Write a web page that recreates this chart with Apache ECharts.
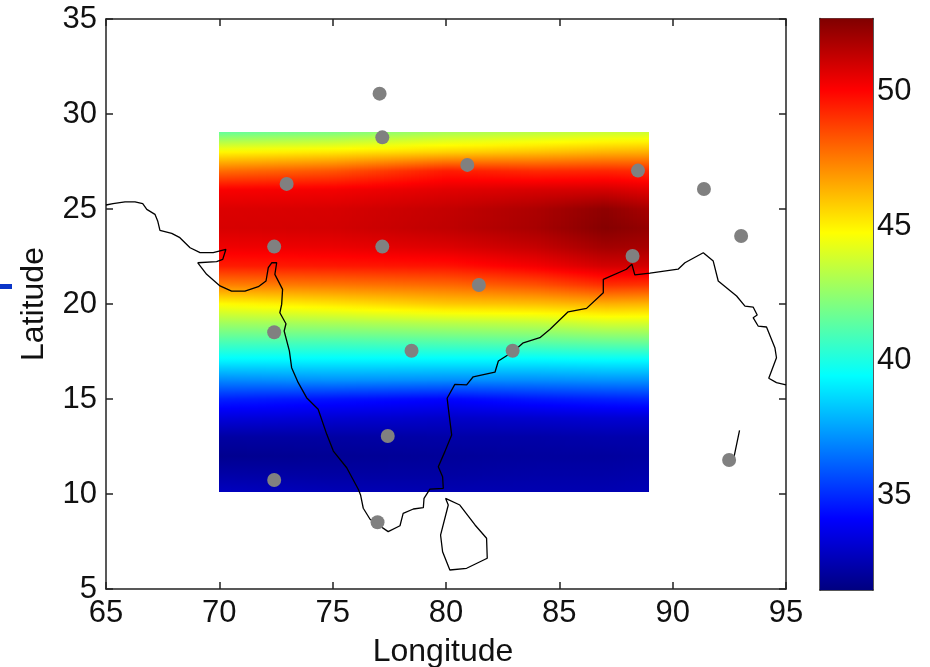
<!DOCTYPE html>
<html><head><meta charset="utf-8">
<style>html,body{margin:0;padding:0;background:#fff}#c{width:930px;height:667px}</style>
<script src="https://cdn.jsdelivr.net/npm/echarts@6/dist/echarts.min.js"></script>
</head><body><div id="c"></div>
<script>
const xTicks = [65,70,75,80,85,90,95];
const yTicks = [5,10,15,20,25,30,35];
const barTicks = [35,40,45,50];
const cMin = 31.47, cMax = 52.73;
const gridLons = [70,75,80,84,87,88.96];
const gridLats = [29.05,28,27,26,25,24,23,22,21,20,19,18,17,16,15,14,13,12,11,10.1];
const temp70 = [41.5,44.9,47.8,50.2,50.8,50.9,50.4,49.5,47.4,44.8,42.8,41.0,39.2,37.0,34.8,33.4,32.2,31.8,32.3,32.8];
const temp75 = [42.0,45.2,48.3,50.3,50.9,51.0,50.5,49.6,47.6,45.3,43.0,41.0,39.2,37.2,34.5,33.2,32.2,31.9,32.2,32.6];
const temp80 = [42.9,45.7,49.5,50.7,51.3,51.4,50.8,49.7,47.9,45.9,43.3,41.2,39.2,37.1,34.2,33.0,32.3,32.0,32.2,32.5];
const temp84 = [43.3,46.0,49.2,50.9,51.8,51.9,51.3,50.3,48.4,46.1,43.5,41.4,39.2,37.1,34.6,33.1,32.3,32.1,32.3,32.5];
const temp87 = [43.6,46.3,49.3,51.0,52.4,52.6,52.0,51.0,49.1,46.4,43.9,41.6,39.3,37.2,34.8,33.2,32.4,32.1,32.3,32.5];
const temp89 = [43.7,46.4,49.2,50.7,51.9,52.3,51.9,51.0,49.0,46.3,43.9,41.7,39.3,37.2,34.9,33.2,32.4,32.2,32.4,32.6];
const tempColumns = [temp70,temp75,temp80,temp84,temp87,temp89];
const stations = [[77.07,31.07],[77.19,28.77],[72.97,26.32],[80.94,27.32],[88.47,27.02],[91.38,26.05],[93.02,23.58],[72.42,23.02],[77.19,23.02],[88.23,22.53],[81.45,21],[72.42,18.51],[78.48,17.54],[82.94,17.54],[77.43,13.05],[72.42,10.74],[76.98,8.51],[92.49,11.79]];
const coastMain = [[65,25.21],[65.31,25.28],[65.84,25.37],[66.28,25.37],[66.62,25.28],[66.8,24.98],[67.16,24.72],[67.28,24.37],[67.38,23.88],[67.9,23.72],[68.26,23.49],[68.71,22.96],[69.15,22.7],[69.73,22.7],[70.29,22.88],[70.15,22.35],[69.88,22.23],[69.05,22.17],[69.44,21.56],[70.03,20.95],[70.54,20.68],[71.13,20.68],[71.72,20.91],[72.06,21.21],[72.16,21.91],[72.31,22.17],[72.53,22.17],[72.45,21.56],[72.79,20.77],[72.75,19.98],[72.67,19.54],[72.94,18.96],[72.86,18.58],[73.09,17.53],[73.19,16.65],[73.48,15.86],[73.85,15.07],[74.36,14.46],[74.74,13.14],[75.03,12.26],[75.62,11.38],[76.13,10.25],[76.23,9.95],[76.35,9.25],[76.65,8.67],[77.45,8.02],[77.97,8.33],[78.11,8.98],[78.56,9.21],[79,9.28],[79.03,9.77],[79.29,10.26],[79.88,10.3],[79.85,10.91],[79.66,11.44],[79.95,12.23],[80.25,13.11],[80.14,14.16],[80.05,15.04],[80.39,15.77],[80.91,15.74],[81.2,16.17],[82.16,16.41],[82.31,17],[82.97,17.5],[83.41,17.96],[84.14,18.23],[84.59,18.67],[85.39,19.59],[86.2,19.77],[86.94,20.59],[86.94,21.3],[87.96,21.83],[88.2,22.1],[88.33,21.53],[89,21.63],[90.24,21.83],[90.54,22.17],[91.35,22.7],[91.79,22.26],[92.01,21.21],[92.82,20.42],[93.19,19.89],[93.55,19.84],[93.73,19.42],[93.55,19.28],[93.77,18.84],[94.14,18.79],[94.51,17.7],[94.58,17.17],[94.24,16.09],[94.58,15.86],[95,15.74]];
const coastLanka = [[79.98,9.77],[80.61,9.42],[81.28,8.37],[81.79,7.67],[81.82,6.62],[80.91,6.09],[80.17,6],[79.85,6.96],[79.76,7.84],[80.1,9.42],[79.98,9.77]];
const coastAndaman = [[92.95,13.35],[92.7,11.91],[92.48,11.74]];

const jetKnots = [[0,0,0,.5],[.125,0,0,1],[.375,0,1,1],[.625,1,1,0],[.875,1,0,0],[1,.5,0,0]];
function jet(v){
  const t=Math.min(1,Math.max(0,(v-cMin)/(cMax-cMin)));
  for(let k=1;k<jetKnots.length;k++){
    const a=jetKnots[k-1],b=jetKnots[k];
    if(t<=b[0]){
      const f=(t-a[0])/(b[0]-a[0]);
      const c=[1,2,3].map(n=>Math.round(255*(a[n]+(b[n]-a[n])*f)));
      return 'rgb('+c.join(',')+')';
    }
  }
  return 'rgb(128,0,0)';
}
const cells=[];
for(let i=0;i<gridLons.length-1;i++)for(let j=0;j<gridLats.length-1;j++){
  cells.push([gridLons[i],gridLons[i+1],gridLats[j],gridLats[j+1],
    tempColumns[i][j],tempColumns[i+1][j],tempColumns[i][j+1],tempColumns[i+1][j+1]]);
}
function renderCell(p,api){
  const lon0=api.value(0),lon1=api.value(1),lat0=api.value(2),lat1=api.value(3);
  const vTL=api.value(4),vTR=api.value(5),vBL=api.value(6),vBR=api.value(7);
  const a=api.coord([lon0,lat0]),b=api.coord([lon1,lat1]);
  const x0=Math.round(a[0]),x1=Math.round(b[0]),y0=Math.round(a[1]),y1=Math.round(b[1]);
  const n=Math.max(1,Math.ceil((x1-x0)/4));
  const children=[];
  for(let s=0;s<n;s++){
    const f=(s+.5)/n;
    const vT=vTL+(vTR-vTL)*f,vB=vBL+(vBR-vBL)*f;
    const xa=Math.round(x0+(x1-x0)*s/n),xb=Math.round(x0+(x1-x0)*(s+1)/n);
    const stops=[];
    for(let q=0;q<=6;q++){const g=q/6;stops.push({offset:g,color:jet(vT+(vB-vT)*g)});}
    children.push({type:'rect',shape:{x:xa,y:y0,width:xb-xa,height:y1-y0},
      style:{fill:{type:'linear',x:0,y:0,x2:0,y2:1,colorStops:stops}},silent:true});
  }
  return {type:'group',children};
}
function renderBar(p,api){
  const a=api.coord([0,api.value(2)]),b=api.coord([1,api.value(1)]);
  const stops=jetKnots.slice().reverse().map(k=>({offset:1-k[0],color:'rgb('+[k[1],k[2],k[3]].map(n=>Math.round(n*255)).join(',')+')'}));
  return {type:'rect',shape:{x:a[0],y:a[1],width:b[0]-a[0],height:b[1]-a[1]},
    style:{fill:{type:'linear',x:0,y:0,x2:0,y2:1,colorStops:stops}},silent:true};
}
const FONT='"Liberation Sans"', INK='#222';
const line={show:true,onZero:false,lineStyle:{color:INK,width:1.5}};
const tick=(len)=>({show:true,inside:true,length:len,lineStyle:{color:INK,width:1.5}});
const coastStyle={type:'line',showSymbol:false,symbol:'none',silent:true,z:3,xAxisIndex:0,yAxisIndex:0,
  lineStyle:{color:'#000',width:1.3},animation:false};
const chart=echarts.init(document.getElementById('c'),null,{renderer:'canvas'});
chart.setOption({
  animation:false,backgroundColor:'#fff',
  grid:[{left:106,top:19,width:680,height:570,containLabel:false,outerBoundsMode:'none'},
        {left:820,top:18.5,width:53,height:571.5,containLabel:false,outerBoundsMode:'none'}],
  xAxis:[
    {type:'value',gridIndex:0,min:65,max:95,interval:5,position:'bottom',splitLine:{show:false},axisLine:line,axisTick:tick(7),
     axisLabel:{color:'#111',fontFamily:FONT,fontSize:31,margin:9,showMinLabel:true,showMaxLabel:true,hideOverlap:false},
     name:'Longitude',nameLocation:'middle',nameGap:47,nameTextStyle:{color:'#111',fontFamily:FONT,fontSize:32,padding:[0,6,0,0]}},
    {type:'value',gridIndex:0,min:65,max:95,interval:5,position:'top',splitLine:{show:false},axisLine:line,axisTick:tick(7),axisLabel:{show:false}},
    {type:'value',gridIndex:1,min:0,max:1,position:'bottom',splitLine:{show:false},axisLine:line,axisTick:{show:false},axisLabel:{show:false}},
    {type:'value',gridIndex:1,min:0,max:1,position:'top',splitLine:{show:false},axisLine:line,axisTick:{show:false},axisLabel:{show:false}}
  ],
  yAxis:[
    {type:'value',gridIndex:0,min:5,max:35,interval:5,position:'left',splitLine:{show:false},axisLine:line,axisTick:tick(7),
     axisLabel:{color:'#111',fontFamily:FONT,fontSize:31,margin:9,showMinLabel:true,showMaxLabel:true,hideOverlap:false},
     name:'Latitude',nameLocation:'middle',nameGap:56,nameRotate:90,nameTextStyle:{color:'#111',fontFamily:FONT,fontSize:32}},
    {type:'value',gridIndex:0,min:5,max:35,interval:5,position:'right',splitLine:{show:false},axisLine:line,axisTick:tick(7),axisLabel:{show:false}},
    {type:'value',gridIndex:1,min:cMin,max:cMax,position:'left',splitLine:{show:false},axisLine:line,
     axisTick:Object.assign(tick(6),{customValues:barTicks}),axisLabel:{show:false}},
    {type:'value',gridIndex:1,min:cMin,max:cMax,position:'right',splitLine:{show:false},axisLine:line,
     axisTick:Object.assign(tick(6),{customValues:barTicks}),
     axisLabel:{customValues:barTicks,color:'#111',fontFamily:FONT,fontSize:31,margin:4}}
  ],
  series:[
    {type:'custom',xAxisIndex:0,yAxisIndex:0,data:cells,renderItem:renderCell,z:1,silent:true,encode:{x:[0,1],y:[2,3]},clip:false},
    Object.assign({},coastStyle,{data:coastMain}),
    Object.assign({},coastStyle,{data:coastLanka}),
    Object.assign({},coastStyle,{data:coastAndaman}),
    {type:'scatter',xAxisIndex:0,yAxisIndex:0,data:stations,symbol:'circle',symbolSize:14,z:4,silent:true,itemStyle:{color:'#808080',opacity:1}},
    {type:'custom',xAxisIndex:2,yAxisIndex:2,data:[[0,cMin,cMax]],renderItem:renderBar,z:1,silent:true,encode:{y:[1,2]},clip:false}
  ],
  graphic:[{type:'rect',left:0,top:284,shape:{width:12,height:5},style:{fill:'#0a35c8'},silent:true}]
});
</script></body></html>
